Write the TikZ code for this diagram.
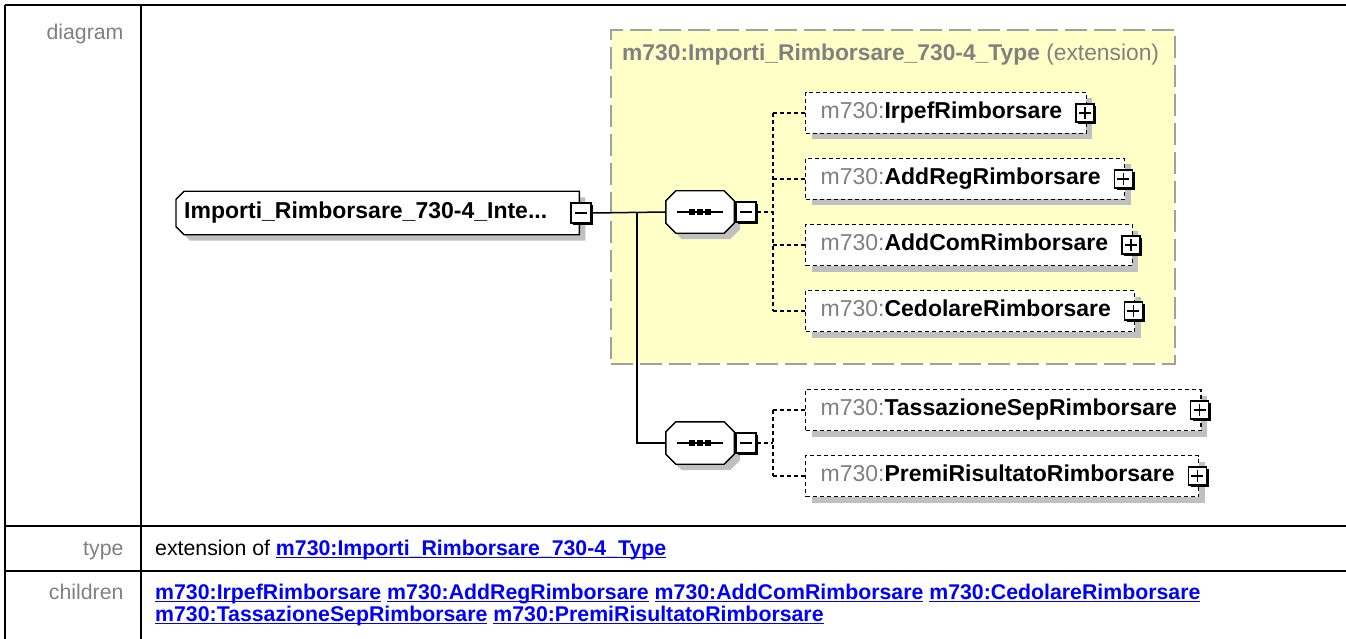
\documentclass[tikz,border=0pt]{standalone}
\usepackage{fontspec}
\setmainfont{Liberation Sans}
\usetikzlibrary{shadows,backgrounds}
\definecolor{ygold}{HTML}{FFFFC8}
\definecolor{shgray}{HTML}{C0C0C0}
\definecolor{lblgray}{HTML}{808080}
\definecolor{extgray}{HTML}{A0A0A0}
\definecolor{linkblue}{RGB}{0,0,255}
\newsavebox\lnkbox
\newcommand\lnk[1]{\textcolor{linkblue}{\sbox\lnkbox{\bfseries #1}\rlap{\rule[-3.4pt]{\wd\lnkbox}{1.8pt}}\usebox\lnkbox}}
\newcommand\mns[1]{{\color{lblgray}m730:}\textbf{#1}\kern9pt}
\begin{document}
\begin{tikzpicture}[x=1pt,y=-1pt,
  dfont/.style={font=\fontsize{23}{27}\selectfont},
  tfont/.style={font=\fontsize{21.3}{25}\selectfont},
  tline/.style={line width=2pt, black},
  sh/.style={general shadow={fill=shgray, shadow xshift=6pt, shadow yshift=-6pt}},
  childbox/.style={dfont, draw, dash pattern=on 4pt off 3pt, line width=1.3pt, fill=white, sh,
    anchor=west, minimum height=41pt, inner xsep=15pt, inner ysep=0pt, text height=16pt, text depth=4.5pt},
  pmbox/.style={draw, fill=white, line width=1.3pt, minimum size=#1, inner sep=0pt,
    general shadow={fill=black, shadow xshift=2.4pt, shadow yshift=-2.4pt}},
  minusbox/.style={pmbox=#1, path picture={\draw[line width=1.3pt]
    ([xshift=4pt]path picture bounding box.west) -- ([xshift=-4pt]path picture bounding box.east);}},
  plusbox/.style={pmbox=#1, path picture={\draw[line width=1.3pt]
    ([xshift=3pt]path picture bounding box.west) -- ([xshift=-3pt]path picture bounding box.east)
    ([yshift=-3pt]path picture bounding box.north) -- ([yshift=3pt]path picture bounding box.south);}},
  conn/.style={line width=1.5pt, black},
  dconn/.style={line width=1.3pt, black, dash pattern=on 4pt off 3pt},
  seqshape/.style={draw, line width=1.4pt, fill=white},
  seqmark/.style={fill=black},
]
\useasboundingbox (0,0) rectangle (1346,639);
\clip (0,0) rectangle (1346,639);

% table
\draw[tline] (5,5) -- (1350,5);
\draw[tline] (5,5) -- (5,645);
\draw[tline] (141,5) -- (141,645);
\draw[tline] (5,526) -- (1350,526);
\draw[tline] (5,571) -- (1350,571);

\node[tfont, text=lblgray, anchor=base east] (ldiag) at (127,40) {diagram};
\node[tfont, text=lblgray, anchor=base east] (ltype) at (127,555) {type};
\node[tfont, text=lblgray, anchor=base east] (lchild) at (127,599) {children};
\node[tfont, anchor=base west, inner xsep=0pt] (vtype) at (155,555) {extension of \lnk{m730:Importi\_Rimborsare\_730-4\_Type}};
\node[tfont, anchor=base west, inner xsep=0pt] (vch1) at (155,599) {\lnk{m730:IrpefRimborsare} \lnk{m730:AddRegRimborsare} \lnk{m730:AddComRimborsare} \lnk{m730:CedolareRimborsare}};
\node[tfont, anchor=base west, inner xsep=0pt] (vch2) at (155,621) {\lnk{m730:TassazioneSepRimborsare} \lnk{m730:PremiRisultatoRimborsare}};

% main element
\node[dfont, anchor=west, minimum height=43pt, text width=387pt, inner xsep=8pt, inner ysep=0pt,
  text height=16pt, text depth=4.5pt] (main) at (176,213) {\bfseries Importi\_Rimborsare\_730-4\_Inte...};
% sequences
\node[minimum width=68pt, minimum height=42pt, inner sep=0pt] (seqA) at (700,212) {};
\node[minimum width=68pt, minimum height=42pt, inner sep=0pt] (seqB) at (700,443) {};

\begin{pgfonlayer}{background}
  % extension box
  \node[draw=extgray, line width=2pt, dash pattern=on 22pt off 7pt, fill=ygold, anchor=north west,
    minimum width=564pt, minimum height=334pt, inner sep=0pt] (ext) at (610,29) {};
  \fill[shgray] ([shift={(14pt,-6pt)}]main.north west) -- ([shift={(6pt,-6pt)}]main.north east)
    -- ([shift={(6pt,-6pt)}]main.south east) -- ([shift={(14pt,-6pt)}]main.south west)
    -- ([shift={(6pt,2pt)}]main.south west) -- ([shift={(6pt,-14pt)}]main.north west) -- cycle;
  \draw[seqshape] ([xshift=8pt]main.north west) -- (main.north east) -- (main.south east)
    -- ([xshift=8pt]main.south west) -- ([yshift=8pt]main.south west) -- ([yshift=-8pt]main.north west) -- cycle;
  \foreach \s in {seqA,seqB}{
    \fill[shgray] ([shift={(16pt,-6pt)}]\s.north west) -- ([shift={(-4pt,-6pt)}]\s.north east)
      -- ([shift={(6pt,-16pt)}]\s.north east) -- ([shift={(6pt,4pt)}]\s.south east)
      -- ([shift={(-4pt,-6pt)}]\s.south east) -- ([shift={(16pt,-6pt)}]\s.south west)
      -- ([shift={(6pt,4pt)}]\s.south west) -- ([shift={(6pt,-16pt)}]\s.north west) -- cycle;
    \draw[seqshape] ([xshift=10pt]\s.north west) -- ([xshift=-10pt]\s.north east)
      -- ([yshift=-10pt]\s.north east) -- ([yshift=10pt]\s.south east)
      -- ([xshift=-10pt]\s.south east) -- ([xshift=10pt]\s.south west)
      -- ([yshift=10pt]\s.south west) -- ([yshift=-10pt]\s.north west) -- cycle;
  }
\end{pgfonlayer}
\node[dfont, font=\fontsize{22.8}{27}\selectfont, text=lblgray, anchor=west, inner sep=0pt] (exttitle) at (622,55)
  {\textbf{m730:Importi\_Rimborsare\_730-4\_Type} (extension)};

\foreach \s in {seqA,seqB}{
  \draw[line width=1.4pt] ([xshift=-23pt]\s.center) -- ([xshift=23pt]\s.center);
  \foreach \d in {-8,0,8}{
    \fill[seqmark] ([shift={(\d pt,0pt)}]\s.center) ++(-2.6pt,-2.6pt) rectangle ++(5.2pt,5.2pt);
  }
}

% minus boxes
\node[minusbox=20pt] (mminus) at (581,213) {};
\node[minusbox=20pt] (aminus) at (746,212) {};
\node[minusbox=20pt] (bminus) at (746,443) {};

% children
\node[childbox] (c1) at (805,113) {\mns{IrpefRimborsare}};
\node[childbox] (c2) at (805,179) {\mns{AddRegRimborsare}};
\node[childbox] (c3) at (805,245) {\mns{AddComRimborsare}};
\node[childbox] (c4) at (805,311) {\mns{CedolareRimborsare}};
\node[childbox] (c5) at (805,410) {\mns{TassazioneSepRimborsare}};
\node[childbox] (c6) at (805,476) {\mns{PremiRisultatoRimborsare}};
\foreach \c in {c1,c2,c3,c4,c5,c6}{
  \node[plusbox=18pt] (p\c) at ([xshift=-2pt]\c.east) {};
}

% connectors
\coordinate (br) at (637,213);
\coordinate (vA) at (773,212);
\coordinate (vB) at (773,443);
\draw[conn] (mminus.east) -- (seqA.west);
\draw[conn] (br) |- (seqB.west);
\draw[dconn] (aminus.east) -- (vA);
\draw[dconn] (bminus.east) -- (vB);
\draw[dconn] (c1.west -| vA) -- (c4.west -| vA);
\draw[dconn] (c5.west -| vB) -- (c6.west -| vB);
\foreach \c in {c1,c2,c3,c4}{ \draw[dconn] (\c.west -| vA) -- (\c.west); }
\foreach \c in {c5,c6}{ \draw[dconn] (\c.west -| vB) -- (\c.west); }
\end{tikzpicture}
\end{document}
